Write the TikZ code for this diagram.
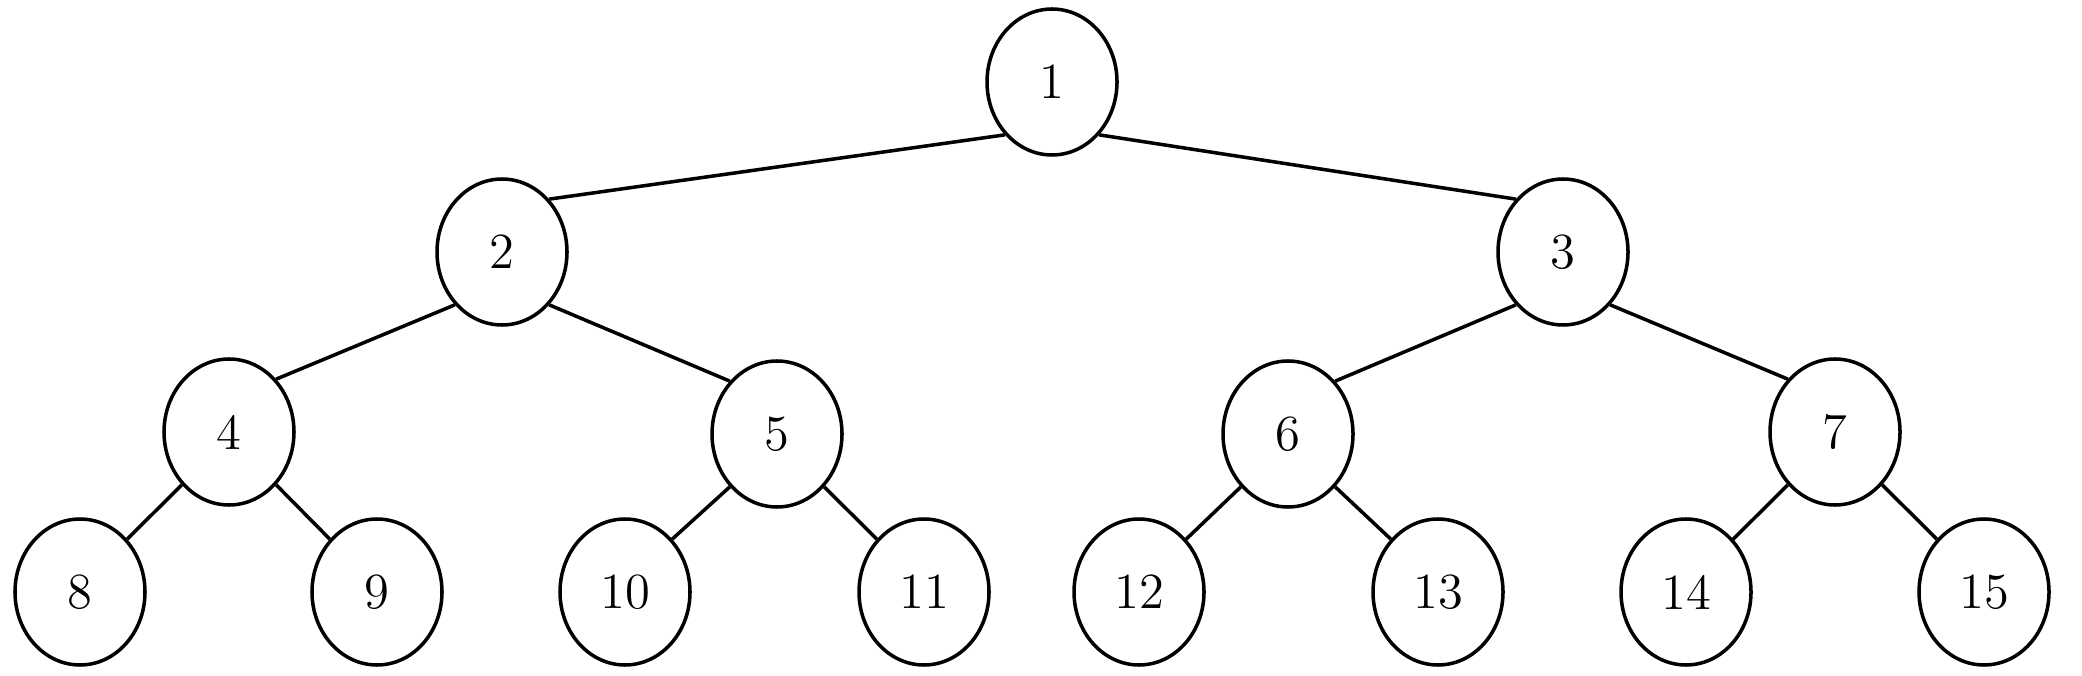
\documentclass[tikz,border=0pt]{standalone}
\usetikzlibrary{shapes.geometric}
\tikzset{vertex/.style={ellipse,draw,minimum width=1.3cm,minimum height=1.46cm,line width=1pt,inner sep=0pt,font=\Large},edge/.style={line width=1pt}}

\begin{document}
\begin{tikzpicture}
    \useasboundingbox (0,0) rectangle (20.82,-6.76);
    \node [vertex] (v1) at (10.52,-0.82) {1};

    \node [vertex] (v2) at (5.02,-2.52) {2};
    \node [vertex] (v3) at (15.63,-2.52) {3};

    \node [vertex] (v4) at (2.29,-4.32) {4};
    \node [vertex] (v5) at (7.77,-4.34) {5};
    \node [vertex] (v6) at (12.88,-4.34) {6};
    \node [vertex] (v7) at (18.35,-4.32) {7};

    \node [vertex] (v8) at (0.80,-5.92) {8};
    \node [vertex] (v9) at (3.77,-5.92) {9};
    \node [vertex] (v10) at (6.25,-5.92) {10};
    \node [vertex] (v11) at (9.24,-5.92) {11};
    \node [vertex] (v12) at (11.39,-5.92) {12};
    \node [vertex] (v13) at (14.38,-5.92) {13};
    \node [vertex] (v14) at (16.86,-5.92) {14};
    \node [vertex] (v15) at (19.84,-5.92) {15};

    % parent / left child / right child
    \foreach \p/\l/\r in {1/2/3,2/4/5,3/6/7,4/8/9,5/10/11,6/12/13,7/14/15}
        {
        \draw [edge] (v\p.south west) -- (v\l.north east);
        \draw [edge] (v\p.south east) -- (v\r.north west);
        }
\end{tikzpicture}
\end{document}
